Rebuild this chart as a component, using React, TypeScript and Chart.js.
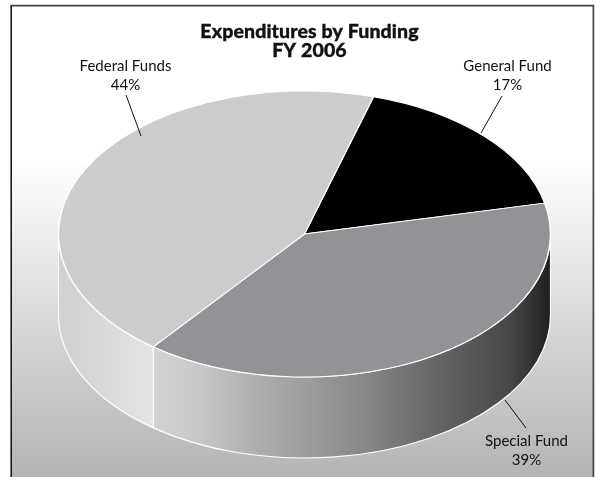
import { useEffect, useRef } from "react";
import { Chart, registerables } from "chart.js";

Chart.register(...registerables);

const categories = ["General Fund", "Special Fund", "Federal Funds"];
const shares = [17, 39, 44];
const titleLines = ["Expenditures by Funding", "FY 2006"];
const topColors = ["#000000", "#929396", "#cbccce"];

const WIDTH = 596;
const HEIGHT = 477;
const RX = 246;
const RY = 143;
const DEPTH = 81;

// Where each callout's text sits and where its leader line runs.
const callouts = [
  { x: 507.5, y: 71, from: [502, 96], to: [481, 133] },
  { x: 526.5, y: 446, from: [526, 428], to: [505, 400] },
  { x: 125.5, y: 71, from: [126, 95], to: [141, 136] },
];

// Colour stops across the rim of each slice, left to right along the pie's width.
const rimStops: [number, string][][] = [
  [],
  [
    [0.0, "#d2d3d5"],
    [0.12, "#c6c7c9"],
    [0.25, "#aeb0b2"],
    [0.5, "#8c8d8f"],
    [0.72, "#636466"],
    [0.9, "#47474a"],
    [1.0, "#1f1f1f"],
  ],
  [
    [0.0, "#cfd0d2"],
    [1.0, "#e3e4e6"],
  ],
];

const piePseudo3d = {
  id: "piePseudo3d",
  beforeDraw(chart: Chart) {
    const { ctx } = chart;
    ctx.save();
    const wash = ctx.createLinearGradient(0, 160, 0, HEIGHT);
    wash.addColorStop(0, "#ffffff");
    wash.addColorStop(1, "#b4b4b4");
    ctx.fillStyle = wash;
    ctx.fillRect(11, 6, 582, HEIGHT - 6);
    // Open-bottomed frame
    ctx.strokeStyle = "#1a1a1a";
    ctx.lineWidth = 1.6;
    ctx.beginPath();
    ctx.moveTo(11.2, HEIGHT);
    ctx.lineTo(11.2, 5.6);
    ctx.stroke();
    ctx.strokeStyle = "#444444";
    ctx.lineWidth = 1.7;
    ctx.beginPath();
    ctx.moveTo(10.4, 5.6);
    ctx.lineTo(593.4, 5.6);
    ctx.lineTo(593.4, HEIGHT);
    ctx.stroke();
    ctx.restore();
  },
  beforeDatasetsDraw(chart: Chart) {
    const { ctx } = chart;
    const arcs = chart.getDatasetMeta(0).data as any[];
    const cx = arcs[0].x;
    const cy = arcs[0].y;

    ctx.save();
    arcs.forEach((arc, i) => {
      if (!rimStops[i].length) return;
      const a0 = Math.max(arc.startAngle, 0);
      const a1 = Math.min(arc.endAngle, Math.PI);
      if (a1 <= a0) return;
      const x0 = cx + RX * Math.cos(a1);
      const x1 = cx + RX * Math.cos(a0);
      const g = ctx.createLinearGradient(x0, 0, x1, 0);
      rimStops[i].forEach(([t, c]) => g.addColorStop(t, c));
      ctx.beginPath();
      ctx.ellipse(cx, cy, RX, RY, 0, a0, a1, false);
      ctx.ellipse(cx, cy + DEPTH, RX, RY, 0, a1, a0, true);
      ctx.closePath();
      ctx.fillStyle = g;
      ctx.fill();
      ctx.strokeStyle = "#ffffff";
      ctx.lineWidth = 1.2;
      ctx.stroke();
    });
    ctx.restore();

    // The library's slices are flattened into the top face of the disc.
    ctx.save();
    ctx.translate(cx, cy);
    ctx.scale(1, RY / RX);
    ctx.translate(-cx, -cy);
  },
  afterDatasetsDraw(chart: Chart) {
    const { ctx } = chart;
    ctx.restore();

    ctx.save();
    ctx.fillStyle = "#111111";
    ctx.textAlign = "center";
    ctx.textBaseline = "alphabetic";
    ctx.font = "900 19.5px Lato";
    (ctx as any).letterSpacing = "0.12px";
    ctx.strokeStyle = "#111111";
    ctx.lineWidth = 0.35;
    titleLines.forEach((line, i) => {
      ctx.fillText(line, 309.5, 37.5 + i * 19);
      ctx.strokeText(line, 309.5, 37.5 + i * 19);
    });

    (ctx as any).letterSpacing = "0px";
    ctx.font = "15px Lato";
    ctx.lineWidth = 1;
    categories.forEach((name, i) => {
      const c = callouts[i];
      ctx.fillText(name, c.x, c.y);
      ctx.fillText(`${shares[i]}%`, c.x, c.y + 19);
      ctx.beginPath();
      ctx.moveTo(c.from[0], c.from[1]);
      ctx.lineTo(c.to[0], c.to[1]);
      ctx.stroke();
    });
    ctx.restore();
  },
};

export default function App() {
  const ref = useRef<HTMLCanvasElement>(null);

  useEffect(() => {
    const chart = new Chart(ref.current!, {
      type: "pie",
      data: {
        labels: categories,
        datasets: [
          {
            data: shares,
            backgroundColor: topColors,
            borderColor: "#ffffff",
            borderWidth: 1.4,
            clip: false,
          } as any,
        ],
      },
      options: {
        animation: false,
        responsive: false,
        rotation: 16.3,
        radius: RX,
        layout: { padding: { left: 13, bottom: 9 } },
        plugins: { legend: { display: false }, tooltip: { enabled: false } },
      },
      plugins: [piePseudo3d],
    });
    return () => chart.destroy();
  }, []);

  return (
    <div style={{ position: "absolute", left: 0, top: 0, width: WIDTH, height: HEIGHT }}>
      <canvas ref={ref} width={WIDTH} height={HEIGHT} style={{ display: "block" }} />
    </div>
  );
}
